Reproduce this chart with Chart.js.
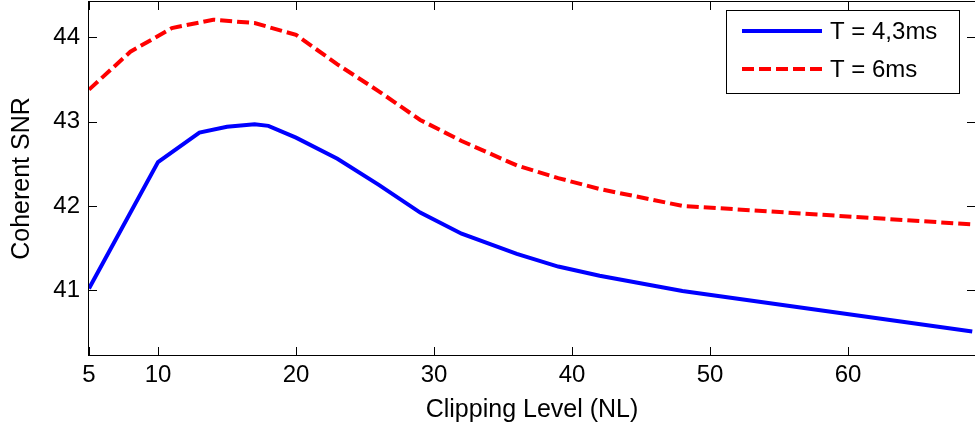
<!DOCTYPE html>
<html>
<head>
<meta charset="utf-8">
<script src="https://cdn.jsdelivr.net/npm/chart.js@4"></script>
<style>
  html, body { margin: 0; padding: 0; background: #fff; }
  #wrap { width: 975px; height: 429px; }
</style>
</head>
<body>
<div id="wrap"><canvas id="myChart" width="975" height="429"></canvas></div>
<script>
// values
const x_short = [5, 10, 13, 15, 17, 18, 20, 23, 26, 29, 32, 36, 39, 42, 48, 69];
const snr_short = [41.02, 42.52, 42.87, 42.94, 42.97, 42.95, 42.81, 42.56, 42.25, 41.92, 41.67, 41.43, 41.28, 41.17, 40.99, 40.51];
const x_long = [5, 8, 11, 14, 17, 20, 23, 26, 29, 32, 36, 39, 42, 48, 69];
const snr_long = [43.38, 43.83, 44.11, 44.21, 44.17, 44.03, 43.68, 43.36, 43.02, 42.77, 42.48, 42.33, 42.2, 42.0, 41.78];
const series_names = ['T = 4,3ms', 'T = 6ms'];
const x_ticks = [5, 10, 20, 30, 40, 50, 60];
const y_ticks = [41, 42, 43, 44];

const FONT = 'Liberation Sans, Arial, sans-serif';

function pairs(xs, ys) {
        let out = [];
        for (let i = 0; i < xs.length; i++) {
                out.push({x: xs[i], y: ys[i]});
        }
        return out;
}

// matlab style box with inward ticks on all four sides, plus the legend box
const boxPlugin = {
        id: 'box',
        afterDraw(chart) {
                const ctx = chart.ctx;
                const a = chart.chartArea;
                const xs = chart.scales.x;
                const ys = chart.scales.y;
                const len = 8;
                ctx.save();
                ctx.strokeStyle = '#000';
                ctx.lineWidth = 1;
                ctx.beginPath();
                for (const v of x_ticks) {
                        const px = Math.round(xs.getPixelForValue(v)) + 0.5;
                        ctx.moveTo(px, a.bottom); ctx.lineTo(px, a.bottom - len);
                        ctx.moveTo(px, a.top); ctx.lineTo(px, a.top + len);
                }
                for (const v of y_ticks) {
                        const py = Math.round(ys.getPixelForValue(v)) + 0.5;
                        ctx.moveTo(a.left, py); ctx.lineTo(a.left + len, py);
                        ctx.moveTo(a.right, py); ctx.lineTo(a.right - len, py);
                }
                ctx.stroke();
                ctx.strokeRect(a.left - 0.5, a.top - 0.5, a.right - a.left + 1, a.bottom - a.top + 1);

                // legend
                const lx = 726, ly = 10, lw = 233, lh = 83;
                ctx.fillStyle = '#fff';
                ctx.fillRect(lx, ly, lw, lh);
                ctx.strokeRect(lx + 0.5, ly + 0.5, lw, lh);
                const rows = [31, 69];
                chart.data.datasets.forEach(function(ds, i) {
                        ctx.beginPath();
                        ctx.strokeStyle = ds.borderColor;
                        ctx.lineWidth = ds.borderWidth;
                        ctx.setLineDash(ds.borderDash || []);
                        ctx.moveTo(742, rows[i]);
                        ctx.lineTo(822, rows[i]);
                        ctx.stroke();
                        ctx.setLineDash([]);
                        ctx.fillStyle = '#000';
                        ctx.font = '24px ' + FONT;
                        ctx.textBaseline = 'middle';
                        ctx.textAlign = 'left';
                        ctx.fillText(ds.label, 830, rows[i] + 1);
                });
                ctx.restore();
        }
};

const data = {
        datasets: [{
                label: series_names[0],
                data: pairs(x_short, snr_short),
                borderColor: 'rgb(0, 0, 255)',
                borderWidth: 4,
                pointRadius: 0,
                tension: 0
        }, {
                label: series_names[1],
                data: pairs(x_long, snr_long),
                borderColor: 'rgb(255, 0, 0)',
                borderWidth: 4,
                borderDash: [12, 5],
                pointRadius: 0,
                tension: 0
        }]
};

const config = {
        type: 'line',
        data: data,
        plugins: [boxPlugin],
        options: {
                responsive: false,
                animation: false,
                layout: { padding: { top: 2, left: 0, right: 0, bottom: 0 } },
                plugins: { legend: { display: false }, tooltip: { enabled: false } },
                scales: {
                        x: {
                                type: 'linear',
                                min: 5,
                                max: 69.2,
                                grid: { display: false, drawTicks: false },
                                border: { display: false },
                                afterBuildTicks: function(scale) {
                                        scale.ticks = x_ticks.map(function(v) { return {value: v}; });
                                },
                                afterFit: function(scale) {
                                        scale.height = 74;
                                        scale.paddingLeft = 0;
                                        scale.paddingRight = 0;
                                },
                                ticks: {
                                        autoSkip: false,
                                        maxRotation: 0,
                                        padding: 6,
                                        color: '#000',
                                        font: { family: FONT, size: 24 }
                                },
                                title: {
                                        display: true,
                                        text: 'Clipping Level (NL)',
                                        color: '#000',
                                        font: { family: FONT, size: 25 },
                                        padding: { top: 0, bottom: 4 }
                                }
                        },
                        y: {
                                min: 40.23,
                                max: 44.42,
                                grid: { display: false, drawTicks: false },
                                border: { display: false },
                                afterBuildTicks: function(scale) {
                                        scale.ticks = y_ticks.map(function(v) { return {value: v}; });
                                },
                                afterFit: function(scale) {
                                        scale.width = 89;
                                        scale.paddingTop = 0;
                                        scale.paddingBottom = 0;
                                },
                                ticks: {
                                        padding: 9,
                                        color: '#000',
                                        font: { family: FONT, size: 24 }
                                },
                                title: {
                                        display: true,
                                        text: 'Coherent SNR',
                                        color: '#000',
                                        font: { family: FONT, size: 25 },
                                        padding: { top: 7, bottom: 0 }
                                }
                        }
                }
        }
};

const myChart = new Chart(document.getElementById('myChart'), config);
</script>
</body>
</html>
